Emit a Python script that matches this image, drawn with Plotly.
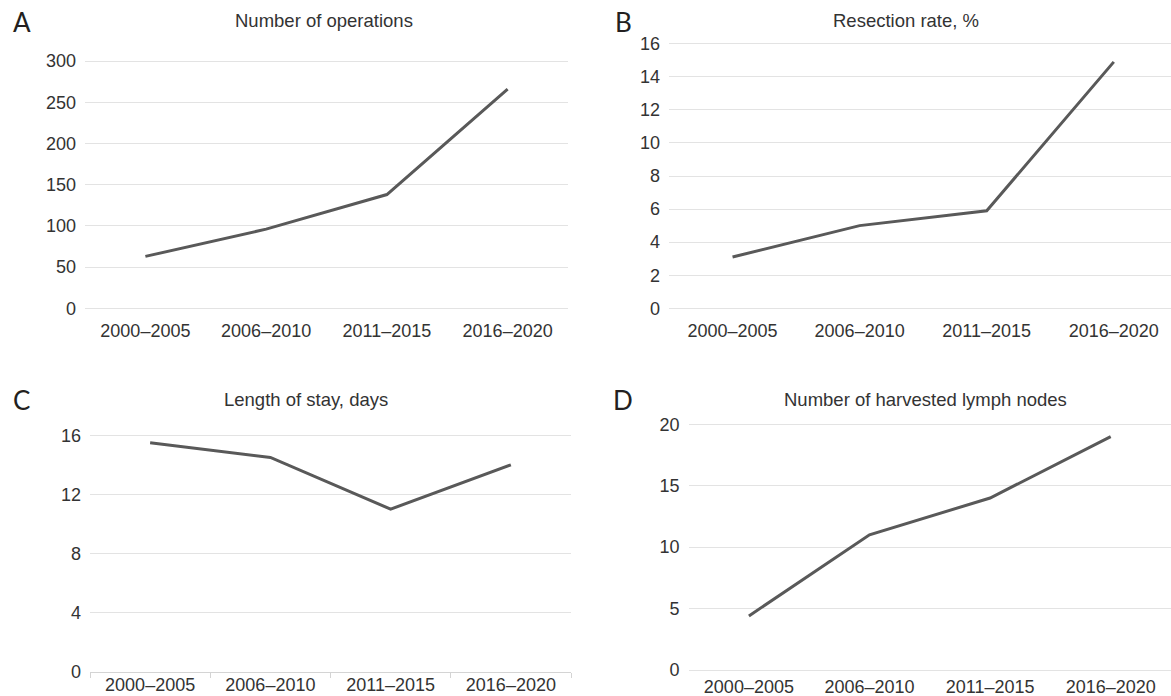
import plotly.graph_objects as go

# Four-period trends in surgical practice
periods = ["2000–2005", "2006–2010", "2011–2015", "2016–2020"]
operations = [63, 96, 138, 266]
resection_rate = [3.1, 5.0, 5.9, 14.9]
length_of_stay = [15.5, 14.5, 11.0, 14.0]
lymph_nodes = [4.4, 11.0, 14.0, 19.0]

ticks_operations = [0, 50, 100, 150, 200, 250, 300]
ticks_resection = [0, 2, 4, 6, 8, 10, 12, 14, 16]
ticks_stay = [0, 4, 8, 12, 16]
ticks_nodes = [0, 5, 10, 15, 20]

titles = ["Number of operations", "Resection rate, %",
          "Length of stay, days", "Number of harvested lymph nodes"]
letters = ["A", "B", "C", "D"]

W, H = 1171, 696
LINE = "#595959"
GRID = "#e3e3e3"
TEXT = "#333333"
FONT = "Liberation Sans, Arial, sans-serif"


def xdom(p0, p1):
    return [p0 / W, p1 / W]


def yaxis_fit(v_lo, p_lo, v_hi, p_hi, pad_top=4, pad_bot=4):
    """Domain and range placing v_lo at pixel row p_lo and v_hi at p_hi."""
    k = (p_lo - p_hi) / (v_hi - v_lo)
    top, bot = p_hi - pad_top, p_lo + pad_bot
    dom = [1 - bot / H, 1 - top / H]
    rng = [v_lo - pad_bot / k, v_hi + pad_top / k]
    return dom, rng


series = [operations, resection_rate, length_of_stay, lymph_nodes]
fig = go.Figure()
for i, ys in enumerate(series):
    sfx = "" if i == 0 else str(i + 1)
    fig.add_trace(go.Scatter(
        x=periods, y=ys, mode="lines",
        line=dict(color=LINE, width=3),
        xaxis="x" + sfx, yaxis="y" + sfx, showlegend=False,
        hoverinfo="x+y",
    ))

tickfont = dict(family=FONT, size=18, color=TEXT)


def xaxis(dom, rng, anchor, **kw):
    d = dict(domain=dom, range=rng, type="category", anchor=anchor,
             showgrid=False, zeroline=False, showline=False, automargin=False,
             tickfont=tickfont, ticks="", fixedrange=True)
    d.update(kw)
    return d


def yaxis(dom, rng, tickvals, anchor):
    return dict(domain=dom, range=rng, anchor=anchor, tickmode="array",
                tickvals=tickvals, showgrid=True, gridcolor=GRID, gridwidth=1,
                zeroline=False, showline=False, automargin=False,
                tickfont=tickfont, ticks="",
                ticklabelstandoff=8, fixedrange=True)


ya_dom, ya_rng = yaxis_fit(0, 308.3, 300, 61)
yb_dom, yb_rng = yaxis_fit(0, 308.3, 16, 43.7)
yc_dom, yc_rng = yaxis_fit(0, 671.7, 16, 435.3, pad_bot=0)
yd_dom, yd_rng = yaxis_fit(0, 670, 20, 424.3)

fig.update_layout(
    width=W, height=H,
    margin=dict(l=0, r=0, t=0, b=0, autoexpand=False),
    paper_bgcolor="white", plot_bgcolor="white",
    font=dict(family=FONT, color=TEXT),
    xaxis=xaxis(xdom(85, 568), [-0.5, 3.5], "y", ticklabelstandoff=6),
    yaxis=yaxis(ya_dom, ya_rng, ticks_operations, "x"),
    xaxis2=xaxis(xdom(669, 1171), [-0.5, 3.45], "y2", ticklabelstandoff=6),
    yaxis2=yaxis(yb_dom, yb_rng, ticks_resection, "x2"),
    xaxis3=xaxis(xdom(90, 571), [-0.5, 3.5], "y3",
                 showline=True, linecolor="#d4d4d4", linewidth=1,
                 ticks="outside", tickson="boundaries", ticklen=5,
                 tickcolor="#d4d4d4", ticklabelstandoff=-3),
    yaxis3=yaxis(yc_dom, yc_rng, ticks_stay, "x3"),
    xaxis4=xaxis(xdom(688.6, 1171), [-0.5, 3.5], "y4", ticklabelstandoff=0),
    yaxis4=yaxis(yd_dom, yd_rng, ticks_nodes, "x4"),
)

# panel titles and letters
title_pos = [(324, 20), (906, 20), (306, 399), (925, 399)]
letter_pos = [(22, 22), (623, 22), (21, 400), (623, 400)]
for t, (tx, ty) in zip(titles, title_pos):
    fig.add_annotation(text=t, x=tx / W, y=1 - ty / H, xref="paper", yref="paper",
                       xanchor="center", yanchor="middle", showarrow=False,
                       font=dict(family=FONT, size=18.5, color=TEXT))
for t, (lx, ly) in zip(letters, letter_pos):
    fig.add_annotation(text=t, x=lx / W, y=1 - ly / H, xref="paper", yref="paper",
                       xanchor="center", yanchor="middle", showarrow=False,
                       font=dict(family="Lato, sans-serif", size=26, color="#231f20"))

fig.write_html("out.html")
